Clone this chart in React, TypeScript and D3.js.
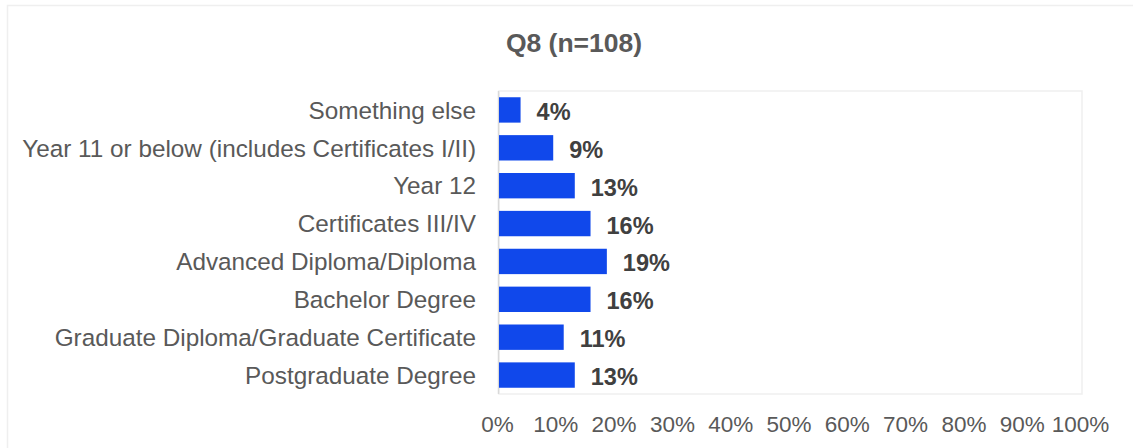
import React from "react";
import * as d3 from "d3";

const title = "Q8 (n=108)";
const categories = [
  "Something else",
  "Year 11 or below (includes Certificates I/II)",
  "Year 12",
  "Certificates III/IV",
  "Advanced Diploma/Diploma",
  "Bachelor Degree",
  "Graduate Diploma/Graduate Certificate",
  "Postgraduate Degree",
];
const values = [3.7, 9.3, 13.0, 15.7, 18.5, 15.7, 11.1, 13.0];
const ticks = [0, 10, 20, 30, 40, 50, 60, 70, 80, 90, 100];

const W = 1133;
const H = 448;
const FONT = "'Liberation Sans', Arial, Helvetica, sans-serif";

export default function App() {
  const left = 499;
  const right = 1082;
  const top = 91;
  const bottom = 394;

  const x = d3.scaleLinear().domain([0, 100]).range([left, right]);
  const y = d3
    .scaleBand<string>()
    .domain(categories)
    .range([top, bottom])
    .paddingInner(0.33)
    .paddingOuter(0.165);

  return (
    <div style={{ position: "absolute", left: 0, top: 0 }}>
      <svg width={W} height={H} style={{ display: "block", background: "#fff" }}>
        <rect x={7.5} y={5.5} width={1200} height={600} fill="#fff" stroke="#efefef" strokeWidth={1.5} />
        <text
          x={574}
          y={52}
          textAnchor="middle"
          fontFamily={FONT}
          fontWeight="bold"
          fontSize={26.5}
          fill="#595959"
        >
          {title}
        </text>
        <rect
          x={left}
          y={top}
          width={right - left}
          height={bottom - top}
          fill="none"
          stroke="#efefef"
          strokeWidth={1.5}
        />
        <line x1={left - 0.5} x2={left - 0.5} y1={top} y2={bottom} stroke="#d9d9d9" strokeWidth={1.5} />
        {categories.map((c, i) => {
          const yy = y(c)!;
          const bw = y.bandwidth();
          const cy = yy + bw / 2;
          const v = values[i];
          return (
            <g key={c}>
              <rect x={x(0)} y={yy} width={x(v) - x(0)} height={bw} fill="#1048eb" />
              <text
                x={476}
                y={cy}
                dy="0.36em"
                textAnchor="end"
                fontFamily={FONT}
                fontSize={24.3}
                fill="#595959"
              >
                {c}
              </text>
              <text
                x={x(v) + 16}
                y={cy + 1.5}
                dy="0.36em"
                fontFamily={FONT}
                fontSize={23.5}
                fontWeight="bold"
                fill="#404040"
              >
                {`${Math.round(v)}%`}
              </text>
            </g>
          );
        })}
        {ticks.map((t) => (
          <text
            key={t}
            x={x(t) - 1.5}
            y={432}
            textAnchor="middle"
            fontFamily={FONT}
            fontSize={22.5}
            fill="#595959"
          >
            {`${t}%`}
          </text>
        ))}
      </svg>
    </div>
  );
}
